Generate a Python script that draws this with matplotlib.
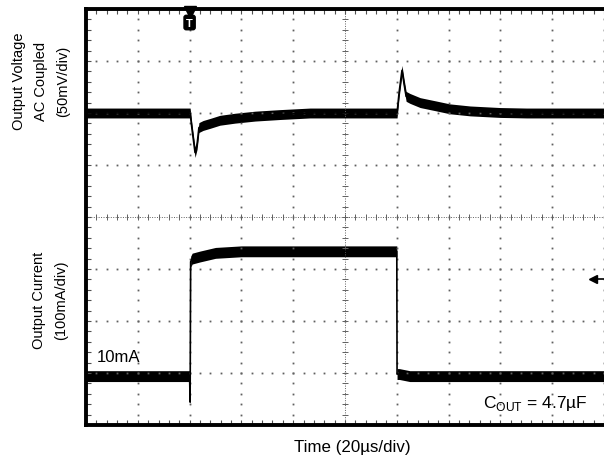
import numpy as np
import matplotlib.pyplot as plt

plt.rcParams['font.family'] = ['Liberation Sans', 'DejaVu Sans']

# voltage trace, AC coupled (time in us, deviation in mV)
v_time = [0, 40.2, 40.9, 42.1, 42.9, 43.6, 45.2, 47.9, 51.7, 57.5, 65.3,
          74.9, 86.5, 120.1, 120.9, 122.0, 122.8, 123.6, 125.1, 129.0,
          134.8, 140.5, 148.3, 159.8, 170, 200]
v_mv = [0, 0, -15, -38, -30, -14, -12, -10, -7, -5, -3,
        -1.5, 0, 0, 20, 41, 28, 16, 14, 10,
        7, 4, 2, 0.5, 0, 0]

# load current step (time in us, current in mA)
i_time = [0, 40, 40.2, 40.4, 41.0, 44, 50, 60, 120, 120.1, 121, 125, 200]
i_ma = [10, 10, -40, 230, 236, 240, 247, 250, 250, 14, 14, 10, 10]

V_DIV = 50      # mV/div
I_DIV = 100     # mA/div
V_ZERO = 6.0    # screen division of the 0 mV level
I_ZERO = 0.84   # screen division of the 0 mA level


def to_div(values, per_div, zero):
    '''Convert physical values to screen divisions'''
    return np.asarray(values, dtype=float) / per_div + zero


def draw_grid(ax):
    '''Oscilloscope style dotted graticule'''
    dot = dict(ls='none', marker='s', ms=1.3, color='#606060', mew=0)
    ys = np.arange(0, 8.01, 0.2)
    xs = np.arange(0, 200.01, 4)
    for gx in range(20, 201, 20):
        if gx != 100:
            ax.plot(np.full_like(ys, gx), ys, **dot)
    for gy in range(1, 8):
        if gy != 4:
            ax.plot(xs, np.full_like(xs, gy), **dot)
    # centre cross with ticks
    ax.axvline(100, color='#606060', lw=0.7, ls=(0, (1, 1.5)))
    ax.axhline(4, color='#606060', lw=0.7, ls=(0, (1, 1.5)))
    ax.plot(np.full_like(ys, 100), ys, ls='none', marker='_', ms=5,
            mew=0.7, color='#606060')
    ax.plot(xs, np.full_like(xs, 4), ls='none', marker='|', ms=5,
            mew=0.7, color='#606060')


def main():
    fig = plt.figure(figsize=(6.04, 4.6), dpi=100)
    ax = fig.add_axes([86 / 604, 34 / 460, 518 / 604, 416 / 460])
    ax.set_xlim(0, 200)
    ax.set_ylim(0, 8)

    draw_grid(ax)

    vy = to_div(v_mv, V_DIV, V_ZERO)
    iy = to_div(i_ma, I_DIV, I_ZERO)
    band = 0.095
    ax.fill_between(v_time, vy - band, vy + band, color='black', lw=0)
    ax.plot(v_time, vy, color='black', lw=1.2)
    ax.fill_between(i_time, iy - band * 1.1, iy + band * 1.1,
                    color='black', lw=0)
    ax.plot(i_time, iy, color='black', lw=1.2)

    # frame and edge ticks
    for side in ['top', 'bottom', 'left']:
        ax.spines[side].set_linewidth(2.8)
    ax.spines['right'].set_visible(False)
    ax.set_xticks(np.arange(0, 201, 20))
    ax.set_xticks(np.arange(0, 201, 4), minor=True)
    ax.set_yticks(np.arange(0, 8.1, 1))
    ax.set_yticks(np.arange(0, 8.01, 0.2), minor=True)
    ax.tick_params(which='both', direction='in', length=3.5, width=0.8,
                   color='#505050', top=True, right=False,
                   labelbottom=False, labelleft=False)

    # trigger marker
    ax.plot(40, 7.95, marker='v', ms=8, color='black', clip_on=False)
    ax.text(40, 7.74, 'T', ha='center', va='center', color='white',
            fontsize=8, fontweight='bold',
            bbox=dict(boxstyle='round,pad=0.2', fc='black', ec='black'))

    # ground reference marker
    ax.plot([195.8, 200], [2.81, 2.81], color='black', lw=1.2,
            clip_on=False)
    ax.plot(195.8, 2.81, marker='<', ms=6, color='black', clip_on=False)

    ax.text(4.2, 1.31, '10mA', fontsize=12, va='center', ha='left')
    ax.text(193.6, 0.44, r'C$_{\mathregular{OUT}}$ = 4.7µF', fontsize=12.5,
            va='center', ha='right')

    fig.text(352 / 604, 1 - 448 / 460, 'Time (20µs/div)', ha='center',
             va='center', fontsize=12.2)
    fig.text(41 / 604, 1 - 81 / 460,
             'Output Voltage\nAC Coupled\n(50mV/div)', ha='center',
             va='center', rotation=90, fontsize=10.5, linespacing=1.7)
    fig.text(50 / 604, 1 - 300 / 460, 'Output Current\n(100mA/div)',
             ha='center', va='center', rotation=90, fontsize=10.5,
             linespacing=1.75)

    fig.savefig('out.png', dpi=100)


if __name__ == '__main__':
    main()
